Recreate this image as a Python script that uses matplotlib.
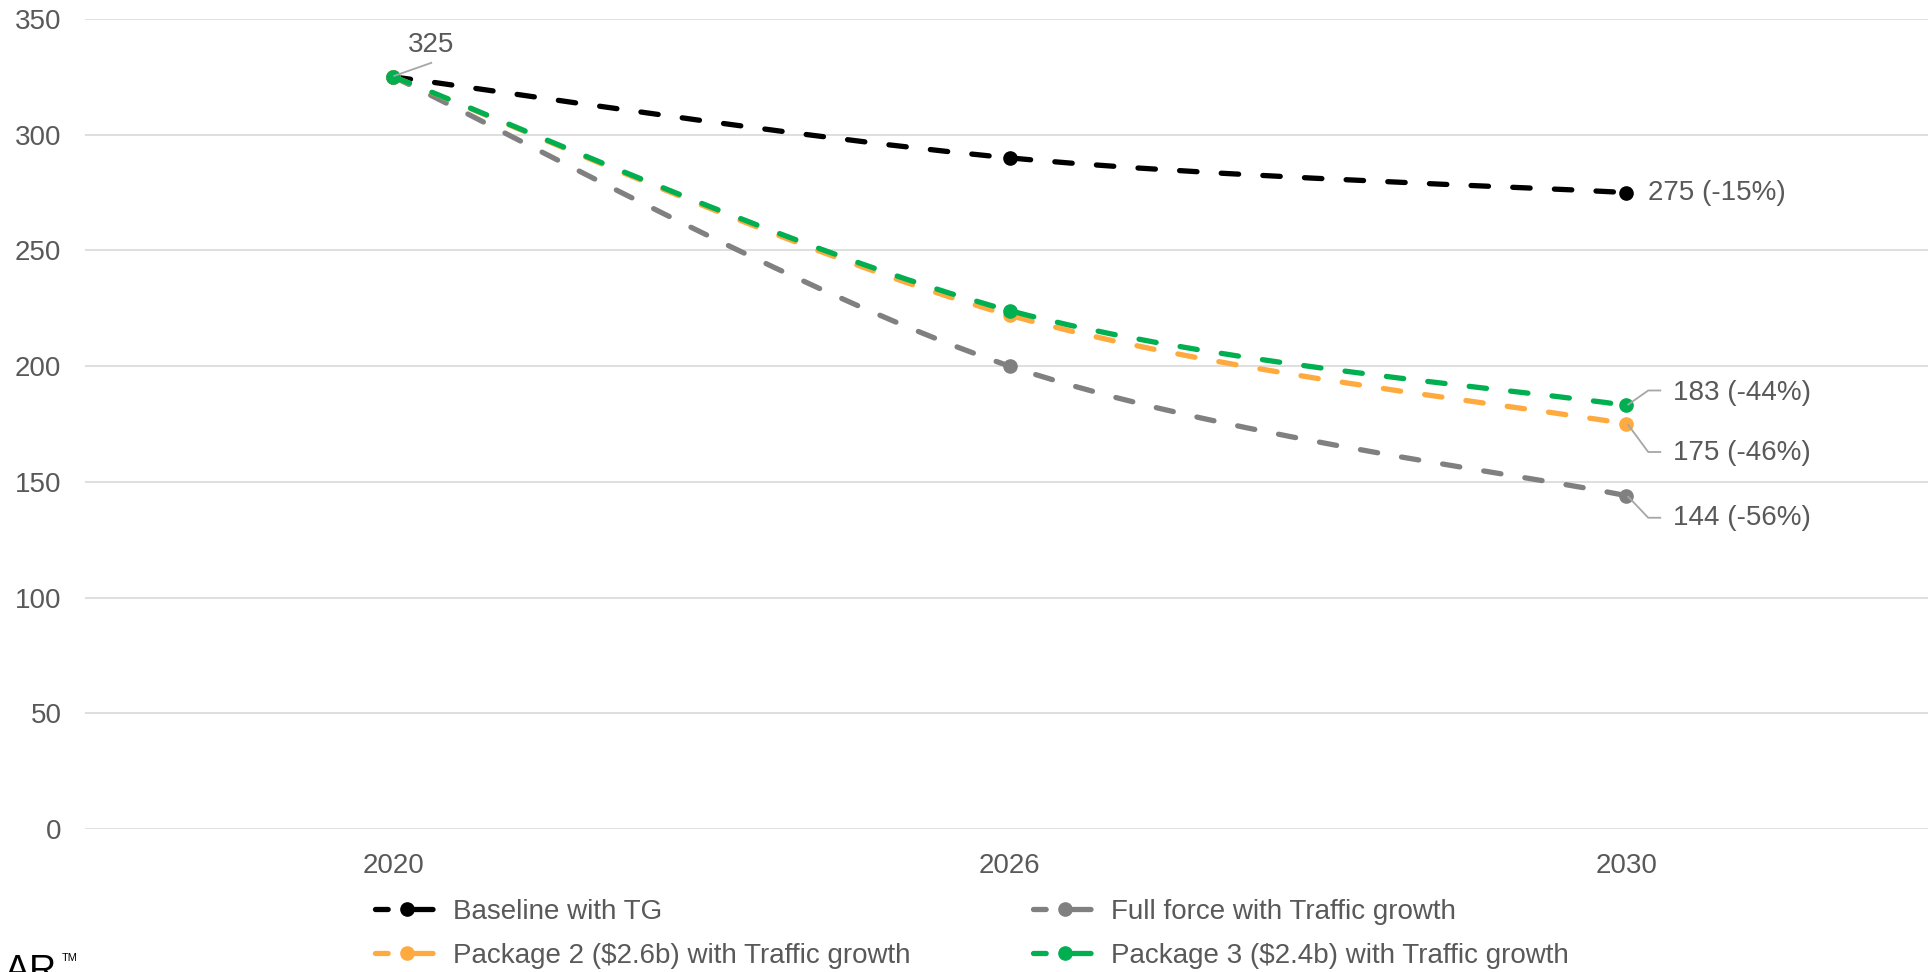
import matplotlib
matplotlib.use("Agg")
import matplotlib.pyplot as plt
from matplotlib.lines import Line2D
from matplotlib.path import Path
from matplotlib.patches import PathPatch
from matplotlib.transforms import IdentityTransform

plt.rcParams['font.family'] = ['Liberation Sans', 'DejaVu Sans']

# ---- data -------------------------------------------------------------
years = ["2020", "2026", "2030"]
baseline = [325, 290, 275]
full_force = [325, 200, 144]
package2 = [325, 222, 175]
package3 = [325, 224, 183]

series_names = ["Baseline with TG",
                "Full force with Traffic growth",
                "Package 2 ($2.6b) with Traffic growth",
                "Package 3 ($2.4b) with Traffic growth"]
series_values = [baseline, full_force, package2, package3]
series_colors = ["#000000", "#808080", "#FFAA3F", "#00B050"]

y_ticks = [0, 50, 100, 150, 200, 250, 300, 350]

TEXT = "#595959"
GRID = "#D9D9D9"
FS = 20
LW = 3.8
DASH = (0, (3.3, 4.6))


def smooth_path(xs, ys):
    """Smoothed-line path: cubic Bezier segments through every point,
    tangents from the neighbouring points (1/6 rule)."""
    pts = list(zip(xs, ys))
    n = len(pts)
    verts = [pts[0]]
    codes = [Path.MOVETO]
    for i in range(n - 1):
        p0 = pts[max(i - 1, 0)]
        p1 = pts[i]
        p2 = pts[i + 1]
        p3 = pts[min(i + 2, n - 1)]
        c1 = (p1[0] + (p2[0] - p0[0]) / 6, p1[1] + (p2[1] - p0[1]) / 6)
        c2 = (p2[0] - (p3[0] - p1[0]) / 6, p2[1] - (p3[1] - p1[1]) / 6)
        verts += [c1, c2, p2]
        codes += [Path.CURVE4] * 3
    return Path(verts, codes)


# ---- figure -----------------------------------------------------------
W, H, DPI = 1928, 972, 100
fig = plt.figure(figsize=(W / DPI, H / DPI), dpi=DPI)
ax = fig.add_axes([85 / W, 1 - 829 / H, 1849.5 / W, 810 / H])

x = list(range(len(years)))
handles = {}
for name, vals, col in zip(series_names, series_values, series_colors):
    patch = PathPatch(smooth_path(x, vals), fill=False, edgecolor=col,
                      lw=LW, linestyle=DASH, capstyle="round", zorder=3)
    ax.add_patch(patch)
    ax.plot(x, vals, ls="none", marker="o", ms=9.5, mfc=col, mec=col,
            zorder=3)
    handles[name] = Line2D([], [], color=col, lw=LW,
                           ls=(0, (2.4, 2.9, 5.6, 3.0)),
                           dash_capstyle="round", marker="o", ms=9.5,
                           mfc=col, mec=col)

ax.set_xlim(-0.5, 2.5)
ax.set_ylim(0, 350)
ax.set_yticks(y_ticks)
ax.set_xticks(x)
ax.set_xticklabels(years)
ax.tick_params(axis="both", length=0, labelsize=FS, labelcolor=TEXT)
ax.tick_params(axis="y", pad=17)
ax.tick_params(axis="x", pad=17)
ax.grid(axis="y", color=GRID, lw=1.2, zorder=0)
ax.set_axisbelow(True)
for s in ax.spines.values():
    s.set_visible(False)

# ---- data labels ------------------------------------------------------
start = baseline[0]
ax.annotate(f"{start}", xy=(0, start), xytext=(38, 32),
            textcoords="offset pixels", ha="center", va="center",
            fontsize=FS, color=TEXT)


def pct(v):
    return round((v - start) / start * 100)


# label offsets (pixels) and leader-line vertices for the 2030 points
end_labels = [
    (baseline[-1], (22, 0), None),
    (package3[-1], (47, 12), [(2, 1), (22, 15), (34, 15)]),
    (package2[-1], (47, -29), [(2, -1), (22, -28), (34, -28)]),
    (full_force[-1], (47, -22), [(2, -1), (22, -22), (34, -22)]),
]

fig.canvas.draw()
for val, off, leader in end_labels:
    ax.annotate(f"{val} ({pct(val)}%)", xy=(2, val), xytext=off,
                textcoords="offset pixels", ha="left", va="center",
                fontsize=FS, color=TEXT)
    if leader:
        px, py = ax.transData.transform((2, val))
        xs = [px + dx for dx, dy in leader]
        ys = [py + dy for dx, dy in leader]
        fig.add_artist(Line2D(xs, ys, transform=IdentityTransform(),
                              color="#A6A6A6", lw=1.3, zorder=5))

# leader for the 2020 label
px, py = ax.transData.transform((0, start))
fig.add_artist(Line2D([px + 1, px + 38], [py + 1, py + 14],
                      transform=IdentityTransform(),
                      color="#A6A6A6", lw=1.3, zorder=5))

# ---- legend -----------------------------------------------------------
order = [series_names[0], series_names[2], series_names[1], series_names[3]]
leg = fig.legend([handles[n] for n in order], order, ncol=2,
                 loc="upper left", bbox_to_anchor=(375 / W, 1 - 899 / H),
                 frameon=False, fontsize=FS, labelcolor=TEXT,
                 handlelength=2.27, handletextpad=0.55,
                 columnspacing=4.4, labelspacing=0.63,
                 borderpad=0, borderaxespad=0)

# brand mark at the lower-left corner
fig.text(5 / W, 1 - 982 / H, "AR", fontsize=27, color="#000000",
         ha="left", va="baseline")
fig.text(62 / W, 1 - 953 / H, "TM", fontsize=8, color="#000000",
         ha="left", va="top")

fig.savefig("out.png", dpi=DPI)
